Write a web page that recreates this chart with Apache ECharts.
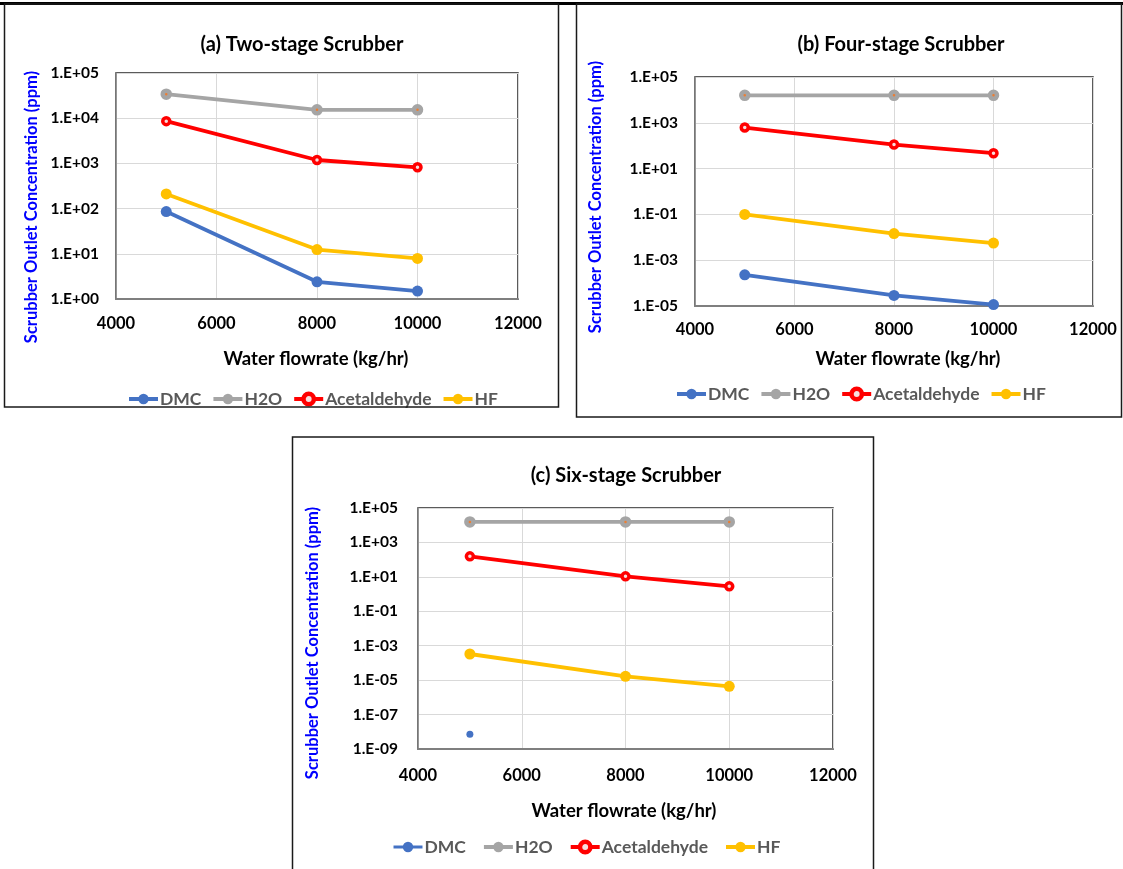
<!DOCTYPE html>
<html>
<head>
<meta charset="utf-8">
<script src="https://cdn.jsdelivr.net/npm/echarts@6/dist/echarts.min.js"></script>
<style>
html,body{margin:0;padding:0;background:#fff;}
#chart{width:1123px;height:869px;}
</style>
</head>
<body>
<div id="chart"></div>
<script>
// ---------- data ----------
const flowrates = [5000, 8000, 10000];
const seriesNames = ['DMC', 'H2O', 'Acetaldehyde', 'HF'];

const twoStageDMC  = [86, 2.4, 1.5];
const twoStageH2O  = [34000, 15300, 15300];
const twoStageAcet = [8600, 1190, 820];
const twoStageHF   = [211, 12.4, 7.9];

const fourStageDMC  = [2.3e-4, 2.9e-5, 1.15e-5];
const fourStageH2O  = [15800, 15800, 15800];
const fourStageAcet = [620, 112, 47];
const fourStageHF   = [0.1, 0.0145, 0.0056];

const sixStageDMC  = [7.1e-9, null, null];
const sixStageH2O  = [15500, 15500, 15500];
const sixStageAcet = [155, 10.7, 2.8];
const sixStageHF   = [3.3e-4, 1.66e-5, 4.4e-6];

const panelTitles = ['(a) Two-stage Scrubber', '(b) Four-stage Scrubber', '(c) Six-stage Scrubber'];
const xAxisTitle = 'Water flowrate (kg/hr)';
const yAxisTitle = 'Scrubber Outlet Concentration (ppm)';
const xTickMin = 4000, xTickMax = 12000, xTickStep = 2000;
const yMins = [1, 1e-5, 1e-9];
const yMax = 1e5;
const yDecadeSteps = [1, 2, 2];

const panelData = [
  [twoStageDMC, twoStageH2O, twoStageAcet, twoStageHF],
  [fourStageDMC, fourStageH2O, fourStageAcet, fourStageHF],
  [sixStageDMC, sixStageH2O, sixStageAcet, sixStageHF]
];

// ---------- layout ----------
const FONT = 'Lato, "Open Sans", "Liberation Sans", sans-serif';
const grids = [
  {left: 116, top: 73, width: 402, height: 226},
  {left: 695, top: 77, width: 398, height: 229},
  {left: 418, top: 508, width: 415, height: 241}
];
const boxes = [
  {x: 4.5, y: 4, w: 554, h: 403},
  {x: 576.5, y: 4, w: 545, h: 413},
  {x: 292.5, y: 437, w: 581, h: 450}
];
const titlePos = [[302, 45], [901, 45], [626, 476]];
const yNamePos = [[32, 207], [596, 197], [313, 643]];
const xNamePos = [[316, 359], [908, 359], [624, 811]];
const legendPos = [[127, 390], [675, 385], [392, 838]];
const legendGaps = [10, 10, 16];
const labelMargins = [[16, 17], [15, 17], [18, 20]];

const colors = {DMC: '#4472C4', H2O: '#A5A5A5', Acetaldehyde: '#FF0000', HF: '#FFC000'};

function fmtExp(v) {
  const e = Math.round(Math.log10(v));
  return '1.E' + (e < 0 ? '-' : '+') + String(Math.abs(e)).padStart(2, '0');
}

function itemStyleFor(name) {
  if (name === 'H2O') return {color: '#ED7D31', borderColor: colors.H2O, borderWidth: 4.5};
  if (name === 'Acetaldehyde') return {color: '#f6dede', borderColor: colors.Acetaldehyde, borderWidth: 3.5};
  return {color: colors[name], borderColor: colors[name], borderWidth: 0};
}
function legendItemStyle(name) {
  if (name === 'H2O') return {color: colors.H2O, borderWidth: 0};
  if (name === 'Acetaldehyde') return {color: '#f6dede', borderColor: colors.Acetaldehyde, borderWidth: 4.5};
  return {color: colors[name], borderWidth: 0};
}
function symbolSizeFor(name, panel) {
  if (name === 'H2O' || name === 'Acetaldehyde') return 7;
  if (panel === 2 && name === 'DMC') return 7;
  return 11;
}

const option = {
  animation: false,
  backgroundColor: '#fff',
  grid: grids.map(g => Object.assign({show: true, borderColor: '#262626', borderWidth: 1.5, containLabel: false}, g)),
  xAxis: grids.map((g, i) => ({
    type: 'value', gridIndex: i, min: xTickMin, max: xTickMax, interval: xTickStep,
    axisLine: {show: true, onZero: false, lineStyle: {color: '#7f7f7f', width: 2}},
    axisTick: {show: false},
    axisLabel: {color: '#000', fontFamily: FONT, fontWeight: 'bold', fontSize: 16.5, margin: labelMargins[i][0],
      formatter: v => String(v)},
    splitLine: {show: true, lineStyle: {color: '#d9d9d9', width: 1}}
  })),
  yAxis: grids.map((g, i) => ({
    type: 'log', logBase: 10, gridIndex: i, min: yMins[i], max: yMax, interval: yDecadeSteps[i],
    axisLine: {show: true, lineStyle: {color: '#7f7f7f', width: 1.5}},
    axisTick: {show: false},
    minorTick: {show: false},
    axisLabel: {color: '#000', fontFamily: FONT, fontWeight: 'bold', fontSize: 15.5, margin: labelMargins[i][1], formatter: fmtExp},
    splitLine: {show: true, lineStyle: {color: '#d9d9d9', width: 1}}
  })),
  legend: legendPos.map((p, i) => ({
    left: p[0], top: p[1], padding: 0, itemGap: legendGaps[i], itemWidth: 29, itemHeight: 13,
    data: seriesNames.map(n => ({name: n, itemStyle: legendItemStyle(n),
      lineStyle: {width: (i === 2 && n === 'DMC') ? 3 : 4, color: colors[n]}})),
    textStyle: {color: '#595959', fontFamily: FONT, fontWeight: 'bold', fontSize: 17.5, padding: [0, 0, 0, -3]},
    selectedMode: false
  })),
  series: [],
  graphic: []
};

panelData.forEach((arrs, p) => {
  arrs.forEach((vals, k) => {
    const name = seriesNames[k];
    option.series.push({
      type: 'line', name: name, xAxisIndex: p, yAxisIndex: p,
      data: flowrates.map((x, j) => [x, vals[j]]),
      symbol: 'circle', symbolSize: symbolSizeFor(name, p), showSymbol: true, connectNulls: false,
      lineStyle: {color: colors[name], width: 3.8},
      itemStyle: itemStyleFor(name),
      z: 3 + k
    });
  });
});

// frames
option.graphic.push({type: 'rect', shape: {x: 0, y: 2, width: 1123, height: 3}, style: {fill: '#000'}, z: 100});
boxes.forEach(b => {
  option.graphic.push({type: 'rect', shape: {x: b.x, y: b.y, width: b.w, height: b.h}, style: {fill: 'none', stroke: '#1a1a1a', lineWidth: 1.5}, z: 100});
});
// titles & axis names
panelTitles.forEach((t, i) => {
  option.graphic.push({type: 'text', x: titlePos[i][0], y: titlePos[i][1],
    style: {text: t, font: 'bold 20px ' + FONT, fill: '#000', align: 'center', verticalAlign: 'middle'}, z: 100});
  option.graphic.push({type: 'text', x: yNamePos[i][0], y: yNamePos[i][1], rotation: Math.PI / 2,
    style: {text: yAxisTitle, font: 'bold 16.5px ' + FONT, fill: '#0000FF', align: 'center', verticalAlign: 'middle'}, z: 100});
  option.graphic.push({type: 'text', x: xNamePos[i][0], y: xNamePos[i][1],
    style: {text: xAxisTitle, font: 'bold 18.5px ' + FONT, fill: '#000', align: 'center', verticalAlign: 'middle'}, z: 100});
});

const chart = echarts.init(document.getElementById('chart'));
chart.setOption(option);
</script>
</body>
</html>
